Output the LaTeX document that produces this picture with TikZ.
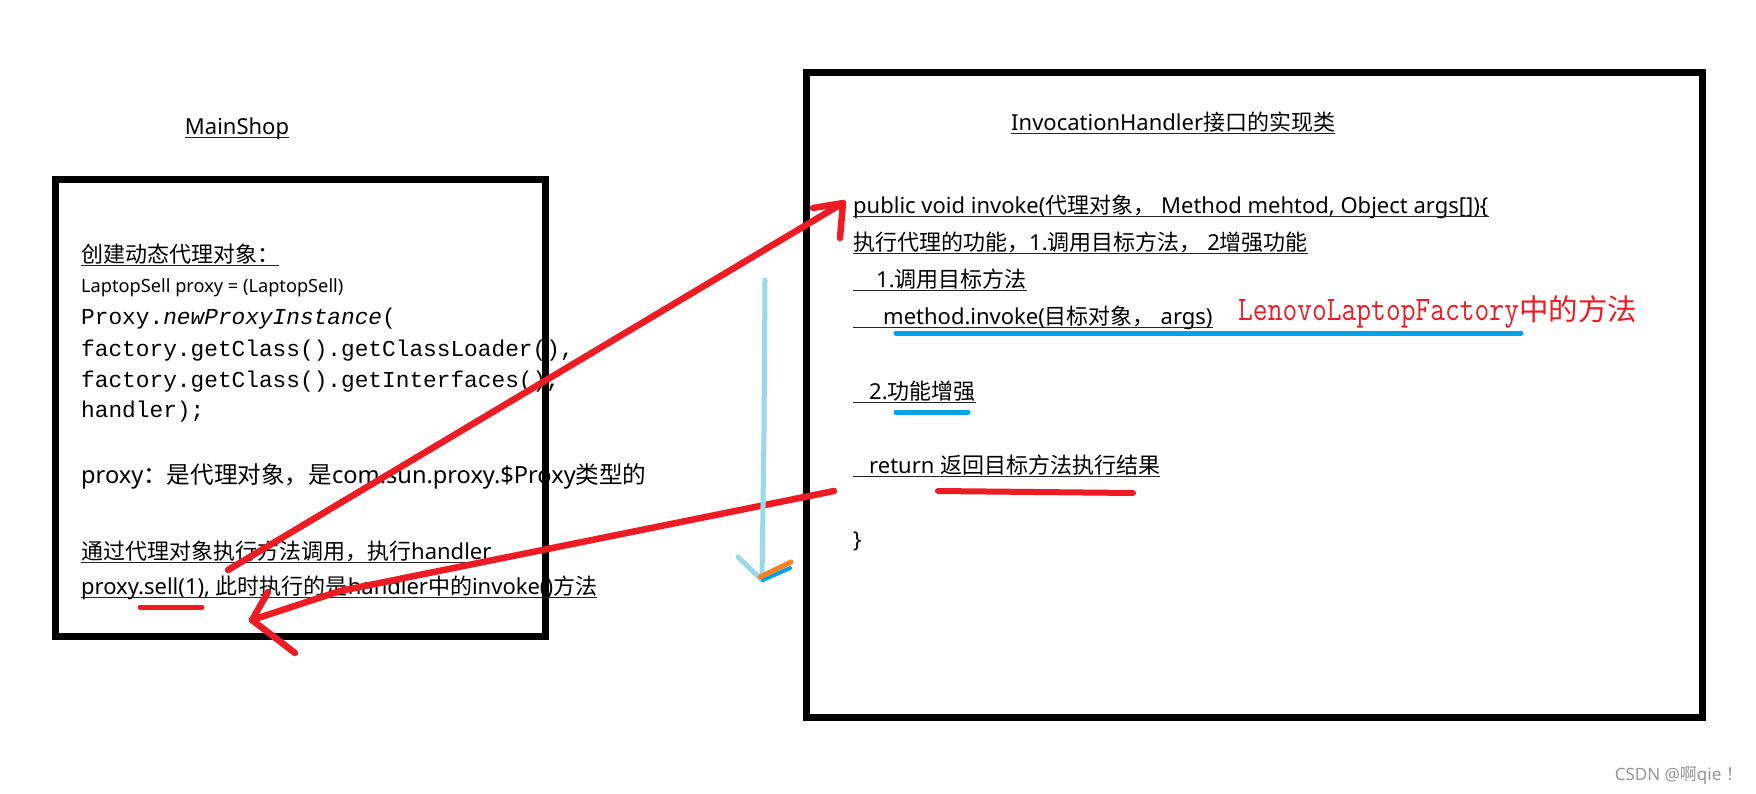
\documentclass[tikz,border=0pt]{standalone}
\usepackage{fontspec}
\setmainfont{Noto Sans}
\newfontfamily\codefont{Liberation Mono}
\newfontfamily\cjk{Noto Sans CJK SC}
\newcommand{\zh}[1]{{\cjk #1}}
\definecolor{pred}{RGB}{237,28,36}
\definecolor{pblue}{RGB}{0,162,232}
\definecolor{lblue}{RGB}{153,217,234}
\definecolor{porange}{RGB}{255,127,39}
\definecolor{wgray}{RGB}{150,150,150}
\tikzset{
  txt/.style={anchor=base west,inner sep=0pt,font=\fontsize{22}{26}\selectfont},
  bigtxt/.style={anchor=base west,inner sep=0pt,font=\fontsize{23.6}{28}\selectfont},
  smalltxt/.style={anchor=base west,inner sep=0pt,font=\fontsize{18.2}{21}\selectfont},
  code/.style={anchor=base west,inner sep=0pt,font=\codefont\fontsize{22.8}{26}\selectfont},
  uline/.style={line width=1.3pt,draw=black!85},
  frame/.style={line width=7pt,draw=black},
  redpen/.style={line width=6.5pt,draw=pred,line cap=round,line join=round},
  bluepen/.style={line width=5pt,draw=pblue,line cap=round},
  lbluepen/.style={line width=5pt,draw=lblue,line cap=round,line join=round},
}
\newcommand{\uline}[1]{\draw[uline] ([yshift=-3.5pt]#1.base west) -- ([yshift=-3.5pt]#1.base east);}
\begin{document}
\begin{tikzpicture}[x=1pt,y=-1pt]
\useasboundingbox[fill=white] (0,0) rectangle (1756,793);
% frames
\draw[frame] (55,179) rectangle (545,636);
\draw[frame] (806,72) rectangle (1702,717);
% headings
\node[txt,anchor=base] (mainshop) at (237,134) {MainShop};
\uline{mainshop}
\node[txt] (ihead) at (1011,130) {InvocationHandler\zh{接口的实现类}};
\uline{ihead}
% left box
\node[txt] (l1) at (81,262) {\zh{创建动态代理对象：}};
\uline{l1}
\node[smalltxt] (l2) at (81,292) {LaptopSell proxy = (LaptopSell)};
\node[code] (l3) at (81,324) {Proxy.\textit{newProxyInstance}(};
\node[code] (l4) at (81,356) {factory.getClass().getClassLoader(),};
\node[code] (l5) at (81,387) {factory.getClass().getInterfaces(),};
\node[code] (l6) at (81,417) {handler);};
\node[bigtxt] (l7) at (81,483) {proxy\zh{：是代理对象，是}com.sun.proxy.\$Proxy\zh{类型的}};
\node[txt] (l8) at (81,559) {\zh{通过代理对象执行方法调用，执行}handler};
\uline{l8}
\node[txt] (l9) at (81,594) {proxy.sell(1), \zh{此时执行的是}handler\zh{中的}invoke()\zh{方法}};
\uline{l9}
% right box
\node[txt] (r1) at (853,213) {public void invoke(\zh{代理对象，} Method mehtod, Object args[])\{};
\uline{r1}
\node[txt] (r2) at (853,250) {\zh{执行代理的功能，}1.\zh{调用目标方法，} 2\zh{增强功能}};
\uline{r2}
\node[txt] (r3) at (853,287) {\hspace*{23pt}1.\zh{调用目标方法}};
\uline{r3}
\node[txt] (r4) at (853,324) {\hspace*{30pt}method.invoke(\zh{目标对象，} args)};
\uline{r4}
\node[txt] (r5) at (853,399) {\hspace*{16pt}2.\zh{功能增强}};
\uline{r5}
\node[txt] (r6) at (853,473) {\hspace*{16pt}return \zh{返回目标方法执行结果}};
\uline{r6}
\node[txt] (r7) at (853,547) {\}};
% red note
\node[anchor=base west,inner sep=0pt,text=pred] (note) at (1238,320)
  {\scalebox{1}[1.2]{\ttfamily\fontsize{28.7}{32}\selectfont LenovoLaptopFactory}{\cjk\fontsize{29.5}{32}\selectfont 中的方法}};
% highlights
\coordinate (b1s) at (896,333); \coordinate (b1e) at (1521,333);
\draw[bluepen] (b1s) -- (b1e);
\coordinate (b2s) at (896,412); \coordinate (b2e) at (968,412);
\draw[bluepen] (b2s) -- (b2e);
\coordinate (u1s) at (938,491); \coordinate (u1e) at (1133,493);
\draw[redpen,line width=6pt] (u1s) -- (u1e);
\coordinate (u2s) at (140,607); \coordinate (u2e) at (202,607);
\draw[redpen,line width=5pt] (u2s) -- (u2e);
% red arrow 1 (left -> invoke)
\coordinate (a1s) at (228,570);
\coordinate (a1t) at (843,203);
\coordinate (a1b1) at (813,208);
\coordinate (a1b2) at (840,238);
\draw[redpen] (a1s) -- (a1t);
\draw[redpen] (a1b1) -- (a1t) -- (a1b2);
% red arrow 2 (return -> left)
\coordinate (a2s) at (834,491);
\coordinate (a2m) at (340,591);
\coordinate (a2t) at (252,620);
\coordinate (a2b1) at (268,592);
\coordinate (a2b2) at (295,653);
\draw[redpen] (a2s) -- (a2m) -- (a2t);
\draw[redpen] (a2b1) -- (a2t) -- (a2b2);
% light blue arrow
\coordinate (c1) at (765,280);
\coordinate (c2) at (764,432);
\coordinate (c3) at (762,580);
\coordinate (c4) at (738,557);
\draw[lbluepen] (c1) -- (c2) -- (c3);
\draw[lbluepen] (c4) -- (c3);
\coordinate (o1) at (763,580); \coordinate (o2) at (790,568);
\draw[bluepen,line width=4pt] (o1) -- (o2);
\coordinate (o3) at (760,577); \coordinate (o4) at (791,562);
\draw[line width=5pt,draw=porange,line cap=round] (o3) -- (o4);
% watermark
\node[anchor=base east,inner sep=0pt,text=wgray,font=\fontsize{17}{20}\selectfont] (wm) at (1743,780) {CSDN @\zh{啊}qie \zh{！}};
\end{tikzpicture}
\end{document}
